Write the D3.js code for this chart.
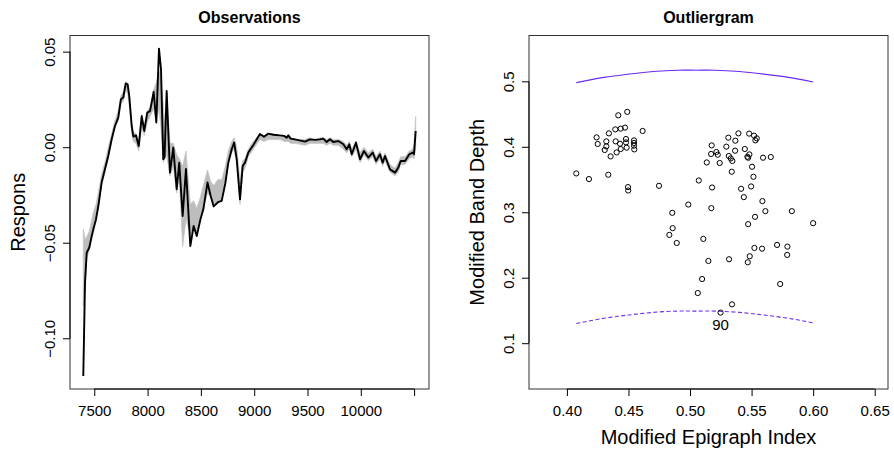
<!DOCTYPE html>
<html><head><meta charset="utf-8">
<script src="https://cdn.jsdelivr.net/npm/d3@7"></script>
<style>body{margin:0;background:#fff} svg{display:block} text{font-family:"Liberation Sans",Arial,Helvetica,sans-serif;fill:#000}</style>
</head><body><svg id="c" width="894" height="452"></svg>
<script>
// ---------- Left panel: observations ----------
const wavenumber = [7397,7413,7429,7453,7476,7491,7516,7538,7569,7600,7631,7663,7694,7725,7750,7772,7795,7813,7828,7851,7866,7891,7917,7945,7969,7997,8023,8057,8082,8107,8126,8147,8159,8179,8210,8241,8273,8297,8329,8360,8401,8432,8461,8496,8523,8562,8592,8620,8660,8695,8729,8757,8789,8812,8836,8867,8892,8914,8945,8992,9054,9092,9132,9179,9242,9280,9305,9320,9342,9383,9477,9523,9570,9617,9648,9680,9711,9742,9789,9836,9868,9892,9915,9955,9993,10030,10070,10112,10143,10180,10205,10227,10274,10321,10352,10374,10415,10455,10487,10499,10515];
const outlierCurve = [-0.1197,-0.0709,-0.0552,-0.0525,-0.0465,-0.0430,-0.0377,-0.0308,-0.0185,-0.0116,
-0.0046,0.0041,0.0111,0.0155,0.0251,0.0260,0.0334,0.0329,0.0268,0.0111,
0.0055,0.0062,0.0006,0.0163,0.0085,0.0181,0.0189,0.0289,0.0129,0.0516,
0.0408,-0.0063,-0.0054,0.0294,-0.0133,-0.0002,-0.0220,-0.0081,-0.0360,-0.0114,
-0.0517,-0.0412,-0.0465,-0.0377,-0.0325,-0.0185,-0.0255,-0.0310,-0.0288,-0.0281,
-0.0190,-0.0081,-0.0011,0.0024,-0.0063,-0.0273,-0.0098,-0.0081,-0.0028,0.0011,
0.0069,0.0055,0.0071,0.0065,0.0062,0.0059,0.0050,0.0062,0.0045,0.0041,
0.0029,0.0041,0.0038,0.0041,0.0045,0.0027,0.0041,0.0027,0.0032,0.0015,
-0.0011,0.0015,-0.0037,0.0024,-0.0063,-0.0020,-0.0054,-0.0028,-0.0072,-0.0037,
-0.0081,-0.0046,-0.0116,-0.0133,-0.0107,-0.0072,-0.0072,-0.0037,-0.0028,-0.0037,0.0085];
const bandLow = [-0.083,-0.075,-0.058,-0.054,-0.048,-0.045,-0.039,-0.032,-0.020,-0.013,
-0.006,0.003,0.010,0.014,0.023,0.024,0.030,0.028,0.022,0.008,
0.003,0.002,-0.002,0.010,0.006,0.013,0.016,0.020,0.014,0.020,
0.010,-0.008,-0.006,-0.004,-0.015,-0.010,-0.024,-0.016,-0.052,-0.038,
-0.046,-0.042,-0.045,-0.038,-0.032,-0.024,-0.026,-0.030,-0.029,-0.028,
-0.019,-0.009,-0.003,-0.001,-0.008,-0.030,-0.013,-0.011,-0.005,-0.001,
0.004,0.003,0.004,0.004,0.004,0.003,0.003,0.003,0.002,0.002,
0.001,0.002,0.002,0.002,0.002,0.001,0.002,0.001,0.001,-0.001,
-0.003,-0.001,-0.005,-0.001,-0.008,-0.004,-0.007,-0.005,-0.009,-0.006,
-0.010,-0.007,-0.013,-0.015,-0.013,-0.009,-0.009,-0.006,-0.005,-0.006,0.000];
const bandHigh = [-0.043,-0.048,-0.047,-0.044,-0.038,-0.034,-0.030,-0.024,-0.014,-0.008,
0.000,0.007,0.014,0.019,0.027,0.029,0.034,0.033,0.028,0.013,
0.008,0.007,0.003,0.016,0.011,0.019,0.021,0.030,0.034,0.040,
0.036,0.022,0.012,0.026,0.002,0.002,-0.004,-0.006,-0.010,-0.002,
-0.030,-0.028,-0.032,-0.026,-0.020,-0.012,-0.018,-0.020,-0.017,-0.017,
-0.010,-0.002,0.003,0.005,0.000,-0.018,-0.007,-0.006,-0.001,0.003,
0.007,0.006,0.007,0.007,0.006,0.006,0.005,0.006,0.005,0.004,
0.004,0.005,0.004,0.005,0.005,0.004,0.005,0.004,0.004,0.003,
0.001,0.003,-0.001,0.003,-0.003,0.000,-0.003,-0.001,-0.005,-0.002,
-0.006,-0.003,-0.009,-0.011,-0.008,-0.005,-0.005,-0.002,-0.001,0.001,0.016];
const leftXTicks = [7500,8000,8500,9000,9500,10000,10500];
const leftXTickLabels = ["7500","8000","8500","9000","9500","10000",""];
const leftYTicks = [-0.10,-0.05,0.00,0.05];
const leftYTickLabels = ["\u22120.10","\u22120.05","0.00","0.05"];

// ---------- Right panel: outliergram ----------
const mei = [0.4417,0.4490,0.4341,0.4393,0.4437,0.4472,0.4615,0.4241,0.4250,0.4320,
0.4320,0.4307,0.4396,0.4431,0.4480,0.4480,0.4545,0.4545,0.4545,0.4547,
0.4485,0.4437,0.4404,0.4355,0.4076,0.4179,0.4336,0.4496,0.4498,0.4748,
0.4986,0.4856,0.4859,0.4832,0.4892,0.5393,0.5480,0.5520,0.5542,0.5531,
0.5311,0.5368,0.5176,0.5295,0.5445,0.5366,0.5214,0.5225,0.5171,0.5315,
0.5331,0.5344,0.5482,0.5466,0.5472,0.5593,0.5656,0.5136,0.5241,0.5504,
0.5339,0.5515,0.5071,0.5179,0.5415,0.5496,0.5437,0.5588,0.5173,0.5612,
0.5827,0.5528,0.5472,0.6000,0.5108,0.5523,0.5585,0.5707,0.5791,0.5789,
0.5485,0.5469,0.5149,0.5317,0.5098,0.5732,0.5063,0.5341,0.5248];
const mbd = [0.4481,0.4533,0.4205,0.4266,0.4277,0.4293,0.4242,0.4144,0.4043,0.4083,
0.4006,0.3951,0.4083,0.4047,0.4119,0.4067,0.4098,0.4058,0.4017,0.3960,
0.3986,0.3966,0.3914,0.3853,0.3593,0.3507,0.3573,0.3384,0.3332,0.3404,
0.3118,0.2991,0.2757,0.2654,0.2531,0.4205,0.4201,0.4170,0.4129,0.4098,
0.4139,0.4093,0.4021,0.4002,0.3966,0.3940,0.3920,0.3879,0.3890,0.3859,
0.3822,0.3783,0.3884,0.3848,0.3833,0.3833,0.3844,0.3761,0.3752,0.3695,
0.3619,0.3542,0.3485,0.3378,0.3358,0.3394,0.3231,0.3170,0.3063,0.3017,
0.3017,0.2930,0.2818,0.2833,0.2593,0.2455,0.2444,0.2501,0.2475,0.2348,
0.2328,0.2236,0.2256,0.2282,0.1980,0.1904,0.1766,0.1593,0.1467];
const outlierIndex = 88;
const outlierLabel = "90";
const boundaryMEI = [0.4076,0.43,0.45,0.47,0.49,0.505,0.52,0.54,0.56,0.58,0.6000];
const boundaryUpper = [0.498,0.506,0.511,0.515,0.517,0.517,0.517,0.515,0.511,0.506,0.499];
const boundaryLower = [0.130,0.138,0.143,0.147,0.149,0.149,0.149,0.147,0.143,0.138,0.131];
const meiLimits = [0.38,0.65];
const mbdLimits = [0.05,0.55];
const rightXTicks = [0.40,0.45,0.50,0.55,0.60,0.65];
const rightXTickLabels = ["0.40","0.45","0.50","0.55","0.60","0.65"];
const rightYTicks = [0.1,0.2,0.3,0.4,0.5];
const rightYTickLabels = ["0.1","0.2","0.3","0.4","0.5"];

// ---------- drawing ----------
const svg = d3.select("#c");
svg.append("rect").attr("width",894).attr("height",452).attr("fill","#fff");
const TOP = 35.5, BOT = 389;
const panels = {left:[70,429], right:[529,888]};
const pad4 = ([a,b]) => { const p=(b-a)*0.04; return [a-p,b+p]; };

function frame(x0,x1,xs,ys,xt,xl,yt,yl,title,xlab,ylab,ylabX){
  const g = svg.append("g");
  // box
  g.append("rect").attr("x",x0).attr("y",TOP).attr("width",x1-x0).attr("height",BOT-TOP)
   .attr("fill","none").attr("stroke","#333").attr("stroke-width",1);
  // x axis
  const ax = g.append("g").attr("transform",`translate(0,${BOT})`)
    .call(d3.axisBottom(xs).tickValues(xt).tickFormat((d,i)=>xl[i]).tickSize(7).tickPadding(6).tickSizeOuter(0));
  ax.select(".domain").remove();
  ax.append("line").attr("x1",xs(xt[0])).attr("x2",xs(xt[xt.length-1])).attr("stroke","#000");
  ax.selectAll(".tick line").attr("stroke","#000");
  ax.selectAll("text").attr("font-size",15).attr("font-family",null).attr("fill","#000").attr("dy","0.95em");
  // y axis
  const ay = g.append("g").attr("transform",`translate(${x0},0)`)
    .call(d3.axisLeft(ys).tickValues(yt).tickFormat((d,i)=>yl[i]).tickSize(7).tickSizeOuter(0));
  ay.select(".domain").remove();
  ay.append("line").attr("y1",ys(yt[0])).attr("y2",ys(yt[yt.length-1])).attr("stroke","#000");
  ay.selectAll(".tick line").attr("stroke","#000");
  ay.selectAll("text").attr("font-size",15).attr("font-family",null).attr("fill","#000")
    .attr("x",0).attr("y",-15).attr("dy",0).attr("text-anchor","middle").attr("transform","rotate(-90)");
  // title
  g.append("text").attr("x",(x0+x1)/2).attr("y",23).attr("text-anchor","middle")
    .attr("font-size",16).attr("font-weight","bold").text(title);
  if(xlab) g.append("text").attr("x",(x0+x1)/2).attr("y",444).attr("text-anchor","middle")
    .attr("font-size",20).text(xlab);
  g.append("text").attr("transform",`translate(${ylabX},${(TOP+BOT)/2}) rotate(-90)`)
    .attr("text-anchor","middle").attr("font-size",20).text(ylab);
}

// Left
const xL = d3.scaleLinear().domain(pad4(d3.extent(wavenumber))).range(panels.left);
const yL = d3.scaleLinear().domain(pad4(d3.extent(outlierCurve.concat(bandLow,bandHigh)))).range([BOT,TOP]);
frame(70,429,xL,yL,leftXTicks,leftXTickLabels,leftYTicks,leftYTickLabels,"Observations",null,"Respons",25);
const clipL = svg.append("clipPath").attr("id","clipL").append("rect")
  .attr("x",70).attr("y",TOP).attr("width",359).attr("height",BOT-TOP);
const gl = svg.append("g").attr("clip-path","url(#clipL)");
const idx = d3.range(wavenumber.length);
gl.append("path").datum(idx)
  .attr("d", d3.area().x(i=>xL(wavenumber[i])).y0(i=>yL(bandLow[i])).y1(i=>yL(bandHigh[i])))
  .attr("fill","#bdbdbd").attr("stroke","#c4c4c4").attr("stroke-width",0.8);
gl.append("path").datum(idx)
  .attr("d", d3.line().x(i=>xL(wavenumber[i])).y(i=>yL(outlierCurve[i])))
  .attr("fill","none").attr("stroke","#000").attr("stroke-width",1.9).attr("stroke-linejoin","round");

// Right
const xR = d3.scaleLinear().domain(pad4(meiLimits)).range(panels.right);
const yR = d3.scaleLinear().domain(pad4(mbdLimits)).range([BOT,TOP]);
frame(529,888,xR,yR,rightXTicks,rightXTickLabels,rightYTicks,rightYTickLabels,"Outliergram","Modified Epigraph Index","Modified Band Depth",484);
const bIdx = d3.range(boundaryMEI.length);
const bl = (arr)=> d3.line().curve(d3.curveNatural).x(i=>xR(boundaryMEI[i])).y(i=>yR(arr[i]));
svg.append("path").datum(bIdx).attr("d",bl(boundaryUpper)).attr("fill","none").attr("stroke","#6b2cf0").attr("stroke-width",1.1);
svg.append("path").datum(bIdx).attr("d",bl(boundaryLower)).attr("fill","none").attr("stroke","#6b2cf0").attr("stroke-width",1.1).attr("stroke-dasharray","4,2.5");
svg.append("g").selectAll("circle").data(d3.range(mei.length)).join("circle")
  .attr("cx",i=>xR(mei[i])).attr("cy",i=>yR(mbd[i])).attr("r",2.6)
  .attr("fill","none").attr("stroke","#000").attr("stroke-width",1);
svg.append("text").attr("x",xR(mei[outlierIndex])).attr("y",yR(mbd[outlierIndex])+17)
  .attr("text-anchor","middle").attr("font-size",15).text(outlierLabel);
</script></body></html>
